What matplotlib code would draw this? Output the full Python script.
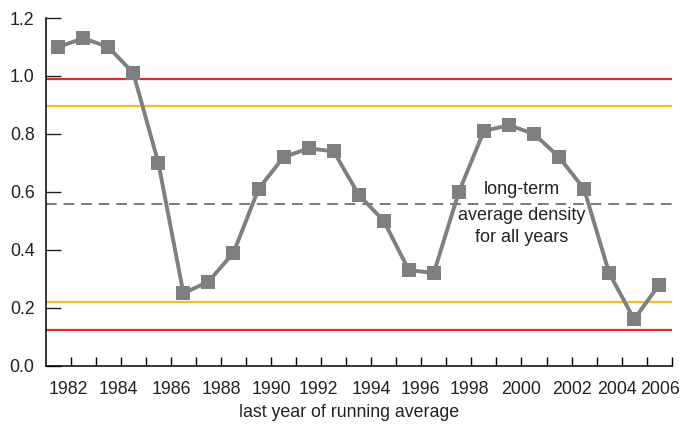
import matplotlib
matplotlib.use("Agg")
import matplotlib.pyplot as plt
import numpy as np

plt.rcParams['font.family'] = ['Liberation Sans', 'DejaVu Sans']

# density per running-average year (25 points)
years = list(range(1982, 2007))
density = [1.10, 1.13, 1.10, 1.01, 0.70, 0.25, 0.29, 0.39, 0.61, 0.72, 0.75, 0.74,
           0.59, 0.50, 0.33, 0.32, 0.60, 0.81, 0.83, 0.80, 0.72, 0.61, 0.32, 0.16, 0.28]

tick_labels = ['1982', '1984', '1986', '1988', '1990', '1992', '1994',
               '1996', '1998', '2000', '2002', '2004', '2006']
tick_label_pos = [0.9, 2.9, 5.0, 7.0, 9.0, 10.9, 13.0, 14.95, 16.9, 19.0, 21.0, 22.8, 24.55]

red_limits = [0.99, 0.123]
yellow_limits = [0.896, 0.219]
long_term_mean = 0.557

fig = plt.figure(figsize=(6.92, 4.24), dpi=100)
ax = fig.add_axes([0.066, 0.1375, 0.9047, 0.82])

n = len(years)
x = np.arange(n) + 0.5

for v in red_limits:
    ax.plot([0, n], [v, v], color='#e8262b', lw=1.6, solid_capstyle='butt', zorder=2)
for v in yellow_limits:
    ax.plot([0, n], [v, v], color='#f6c110', lw=1.6, solid_capstyle='butt', zorder=2)
ax.plot([0, n], [long_term_mean, long_term_mean], color='#555555', lw=1.1,
        dashes=(7, 4.5), zorder=2)

ax.plot(x, density, color='#7f7f82', lw=2.8, marker='s', markersize=9.5,
        markeredgewidth=0, zorder=3)

ax.text(19.0, 0.607, 'long-term', ha='center', va='center', fontsize=13, color='#222222')
ax.text(19.0, 0.520, 'average density', ha='center', va='center', fontsize=13, color='#222222')
ax.text(19.0, 0.441, 'for all years', ha='center', va='center', fontsize=13, color='#222222')

ax.set_xlim(0, n)
ax.set_ylim(0, 1.2)

ax.spines['top'].set_visible(False)
ax.spines['right'].set_visible(False)
ax.spines['left'].set_linewidth(1.1)
ax.spines['bottom'].set_linewidth(1.1)

ax.set_yticks([0.0, 0.2, 0.4, 0.6, 0.8, 1.0, 1.2])
ax.set_yticklabels(['0.0', '0.2', '0.4', '0.6', '0.8', '1.0', '1.2'], fontsize=12.8)
ax.tick_params(axis='y', direction='in', length=11, width=1.0, pad=8, colors='#222222')

ax.xaxis.remove_overlapping_locs = False
ax.set_xticks(np.arange(1, n + 1))
ax.set_xticklabels([])
ax.tick_params(axis='x', direction='in', length=6.5, width=1.0)
ax.set_xticks(tick_label_pos, minor=True)
ax.set_xticklabels(tick_labels, minor=True, fontsize=12.8, color='#222222')
ax.tick_params(axis='x', which='minor', length=0, pad=11)

ax.set_xlabel('last year of running average', fontsize=12.8, color='#222222')
ax.xaxis.set_label_coords(0.485, -0.11)

fig.savefig('out.png', dpi=100)
